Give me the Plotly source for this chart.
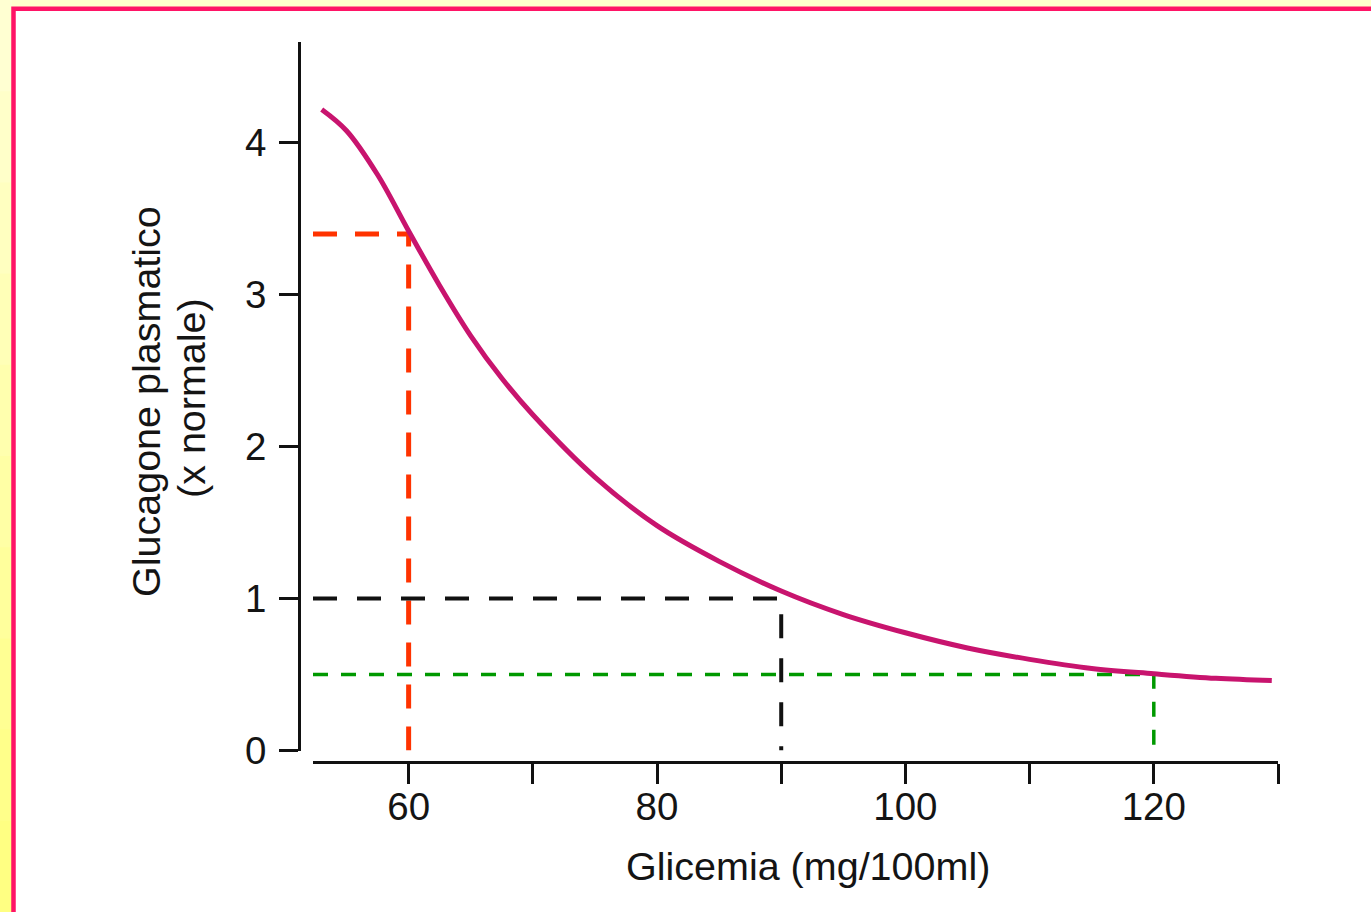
import plotly.graph_objects as go

# Glucagon response curve vs. blood glucose
glicemia = [53, 55, 57.5, 60, 62.5, 65, 67.5, 70, 75, 80, 85, 90, 95, 100, 105, 110, 115, 120, 125, 129.5]
glucagone = [4.22, 4.08, 3.79, 3.42, 3.06, 2.73, 2.45, 2.21, 1.80, 1.48, 1.245, 1.05, 0.895, 0.775,
             0.675, 0.60, 0.54, 0.505, 0.475, 0.46]

x_ticks = [60, 70, 80, 90, 100, 110, 120, 130]
x_tick_labels = ["60", "", "80", "", "100", "", "120", ""]
y_ticks = [0, 1, 2, 3, 4]

# Reference readings marked with dashed guides
ref_glicemia = [60, 90, 120]
ref_glucagone = [3.4, 1.0, 0.5]
ref_colors = ["#FF3300", "#111111", "#009900"]
ref_dashes = ["24px,18px", "24px,20px", "15px,13px"]
ref_widths = [5, 4, 3.5]

X_MIN, X_MAX = 52.3, 130
Y_MAX = 4.664

FONT = "Liberation Sans, Arial, sans-serif"
TEXT_COLOR = "#141414"

fig = go.Figure()

for gx, gy, col, dash, w in zip(ref_glicemia, ref_glucagone, ref_colors, ref_dashes, ref_widths):
    fig.add_trace(go.Scatter(
        x=[X_MIN, gx, gx], y=[gy, gy, 0],
        mode="lines", line=dict(color=col, width=w, dash=dash),
        hoverinfo="skip", showlegend=False,
    ))

fig.add_trace(go.Scatter(
    x=glicemia, y=glucagone, mode="lines",
    line=dict(color="#C8146E", width=5, shape="spline", smoothing=1.0),
    showlegend=False,
))

# page frame: pale yellow page, pink border, white sheet
W, H = 1371, 912
L, R, T, B = 299, 93, 42, 150
pw, ph = W - L - R, H - T - B


def px_x(px):
    return (px - L) / pw


def px_y(py):
    return (H - B - py) / ph


shapes = []
n_seg = 10
for i in range(n_seg):
    t = i / (n_seg - 1)
    blue = int(210 - 80 * t)
    shapes.append(dict(
        type="rect", xref="paper", yref="paper", layer="below",
        x0=px_x(-5), x1=px_x(12),
        y0=px_y(H * (i + 1) / n_seg + 1), y1=px_y(H * i / n_seg),
        fillcolor=f"rgb(255,255,{blue})", line=dict(width=0),
    ))
shapes.append(dict(
    type="rect", xref="paper", yref="paper", layer="below",
    x0=px_x(13.5), x1=px_x(1420), y0=px_y(960), y1=px_y(8.7),
    fillcolor="white", line=dict(color="#FF1466", width=4.5),
))

title_font = dict(family=FONT, size=39.5, color=TEXT_COLOR)
annotations = [
    dict(text="Glicemia (mg/100ml)", xref="paper", yref="paper",
         x=px_x(808), y=px_y(866), xanchor="center", yanchor="middle",
         showarrow=False, font=title_font),
    dict(text="Glucagone plasmatico", xref="paper", yref="paper", textangle=-90,
         x=px_x(146), y=px_y(402), xanchor="center", yanchor="middle",
         showarrow=False, font=title_font),
    dict(text="(x normale)", xref="paper", yref="paper", textangle=-90,
         x=px_x(191), y=px_y(398), xanchor="center", yanchor="middle",
         showarrow=False, font=title_font),
]

axis_common = dict(
    showline=True, linecolor="#111111", linewidth=3,
    ticks="outside", tickwidth=3, tickcolor="#111111",
    showgrid=False, zeroline=False, anchor="free", position=0,
    tickfont=dict(family=FONT, size=38.5, color=TEXT_COLOR),
)

fig.update_layout(
    width=W, height=H,
    margin=dict(l=L, r=R, t=T, b=B, autoexpand=False),
    paper_bgcolor="#FFFFCC",
    plot_bgcolor="rgba(0,0,0,0)",
    shapes=shapes,
    annotations=annotations,
    xaxis=dict(
        **axis_common,
        domain=[px_x(313), 1], range=[X_MIN, X_MAX],
        tickvals=x_ticks, ticktext=x_tick_labels, ticklen=20,
        ticklabelstandoff=-10,
    ),
    yaxis=dict(
        **axis_common,
        domain=[px_y(750.5), 1], range=[0, Y_MAX],
        tickvals=y_ticks, ticklen=19,
        ticklabelstandoff=5,
    ),
)

fig.write_html("out.html")
